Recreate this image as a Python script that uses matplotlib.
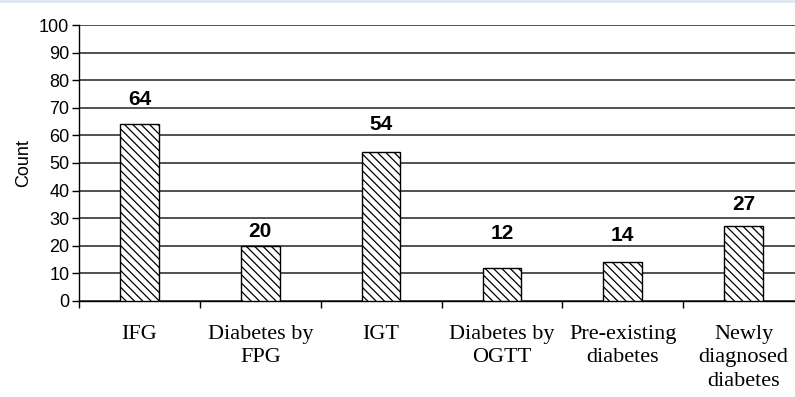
import matplotlib.pyplot as plt

# dados do gráfico
categorias = ["IFG", "Diabetes by\nFPG", "IGT", "Diabetes by\nOGTT",
              "Pre-existing\ndiabetes", "Newly\ndiagnosed\ndiabetes"]
contagens = [64, 20, 54, 12, 14, 27]
ticks_y = list(range(0, 101, 10))

# deslocamento (pontos) dos rótulos acima de cada barra
desloc_rotulo = [18, 10, 19.5, 25, 19.5, 16]

fig = plt.figure(figsize=(7.95, 3.97), dpi=100)
ax = fig.add_axes([0.0994, 0.242, 0.912, 0.695])

plt.rcParams['hatch.linewidth'] = 0.9
pos = list(range(len(categorias)))
ax.bar(pos, contagens, width=0.32, color="white", edgecolor="black",
       linewidth=1.0, hatch="\\\\\\\\", zorder=3)

# rótulos de valor acima das barras
for x, v, d in zip(pos, contagens, desloc_rotulo):
    ax.annotate(str(v), (x, v), xytext=(0, d), textcoords="offset points",
                ha="center", va="center", fontsize=15, fontweight="bold",
                family="Liberation Sans")

ax.set_xlim(-0.5, len(categorias) - 0.5)
ax.set_ylim(0, 100)
ax.set_yticks(ticks_y)
ax.set_yticklabels([str(t) for t in ticks_y], family="Liberation Sans", fontsize=13)
ax.yaxis.grid(True, color="#222222", linewidth=1.1, zorder=0)
ax.set_axisbelow(True)

# marcas do eixo x entre as categorias
ax.set_xticks([p - 0.5 for p in pos] + [len(pos) - 0.5])
ax.set_xticklabels([])
ax.set_xticks(pos, minor=True)
ax.set_xticklabels(categorias, minor=True, family="Liberation Serif", fontsize=16,
                   linespacing=1.35)
ax.tick_params(axis="x", which="minor", length=0, pad=17)
ax.tick_params(axis="x", which="major", length=5, width=1.0)
ax.tick_params(axis="y", length=5, width=1.0, pad=2)

ax.set_ylabel("Count", family="Liberation Sans", fontsize=13, labelpad=5)

for s in ["top", "right"]:
    ax.spines[s].set_visible(False)
ax.spines["left"].set_linewidth(1.0)
ax.spines["bottom"].set_linewidth(1.0)

# faixa azul clara no topo
fig.add_artist(plt.Line2D([0, 1], [0.997, 0.997], color="#dfe6f0", linewidth=2,
                          transform=fig.transFigure))

plt.savefig("out.png", dpi=100)
